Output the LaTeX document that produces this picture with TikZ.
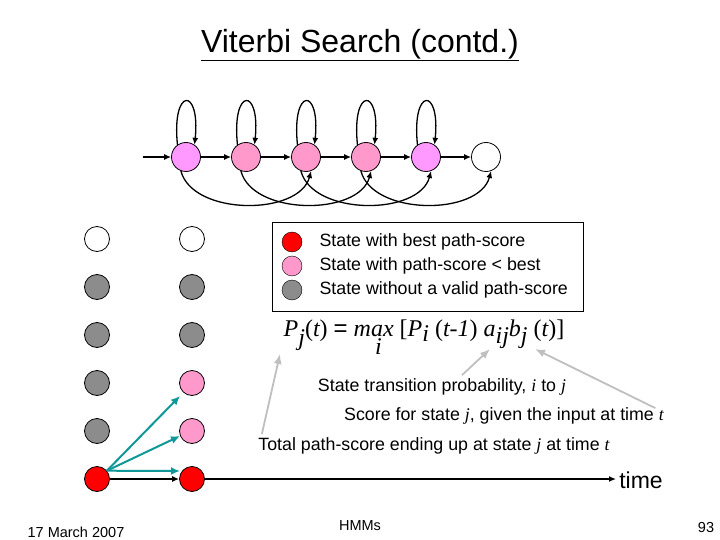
\documentclass[tikz,border=0pt]{standalone}
\usepackage{fontspec}
\setmainfont{Liberation Sans}
\newfontfamily\serif{Liberation Serif}
\newfontfamily\sans{Liberation Sans}
\usetikzlibrary{arrows.meta}
\definecolor{violet}{HTML}{FF99FF}
\definecolor{rose}{HTML}{FF99CC}
\definecolor{tealarrow}{HTML}{109898}
\newcommand{\sv}[1]{{\serif\itshape #1}}
\begin{document}
\begin{tikzpicture}
            [x=1pt, y=-1pt, font=\fontsize{17.8}{21}\selectfont,
             st/.style={circle, draw, thick, minimum size=25pt, inner sep=0pt},
             hs/.style={circle, draw, thick, minimum size=29pt, inner sep=0pt},
             lg/.style={circle, draw, minimum size=20pt, inner sep=0pt},
             ar/.style={-{Latex[length=7pt,width=6pt]}, line width=1.3pt},
             note/.style={-{Latex[length=10pt,width=8pt]}, line width=1.8pt, black!25}]
            \useasboundingbox (0,0) rectangle (720,540);

            % Title
            \node (title) at (360,45) {\fontsize{32}{36}\selectfont\underline{Viterbi Search (contd.)}};

            % HMM model on top
            \node[hs, fill=violet] (h1) at (186,157) {};
            \node[hs, fill=rose]   (h2) at (246,157) {};
            \node[hs, fill=rose]   (h3) at (306,157) {};
            \node[hs, fill=rose]   (h4) at (366,157) {};
            \node[hs, fill=violet] (h5) at (426,157) {};
            \node[hs, fill=white]  (h6) at (486,157) {};
            \coordinate (in) at (143,157);
            \draw[ar] (in) -- (h1);
            \foreach \a/\b in {h1/h2, h2/h3, h3/h4, h4/h5, h5/h6}
                \draw[ar] (\a) -- (\b);
            \foreach \a in {h1, h2, h3, h4, h5}
                \draw[ar] (\a.125) .. controls ++(-6,-58) and ++(6,-58) .. (\a.55);
            \foreach \a/\b in {h1/h3, h2/h4, h3/h5, h4/h6}
                \draw[ar] (\a.250) .. controls ++(12,45) and ++(-12,45) .. (\b.290);

            % Legend
            \node[draw, minimum width=311pt, minimum height=89pt] (legend) at (427.5,266.5) {};
            \node[lg, fill=red]     (l1) at (292,242) {};
            \node[lg, fill=rose]    (l2) at (292,266) {};
            \node[lg, fill=black!45](l3) at (292,290) {};
            \node[anchor=west] (t1) at (316,242) {State with best path-score};
            \node[anchor=west] (t2) at (316,266) {State with path-score < best};
            \node[anchor=west] (t3) at (316,290) {State without a valid path-score};

            % Trellis columns
            \node[st, fill=white]    (a1) at (97,239) {};
            \node[st, fill=black!45] (a2) at (97,287) {};
            \node[st, fill=black!45] (a3) at (97,335) {};
            \node[st, fill=black!45] (a4) at (97,383) {};
            \node[st, fill=black!45] (a5) at (97,431) {};
            \node[st, fill=red]      (a6) at (97,479) {};
            \node[st, fill=white]    (b1) at (192,239) {};
            \node[st, fill=black!45] (b2) at (192,287) {};
            \node[st, fill=black!45] (b3) at (192,335) {};
            \node[st, fill=rose]     (b4) at (192,383) {};
            \node[st, fill=rose]     (b5) at (192,431) {};
            \node[st, fill=red]      (b6) at (192,479) {};
            \coordinate (tend) at (616,479);
            \draw[ar] (a6) -- (b6);
            \draw[ar] (b6) -- (tend);
            \node (time) at (641,480) {\fontsize{23}{27}\selectfont time};
            \coordinate (e4) at (180,396);
            \coordinate (e5) at (180,436);
            \coordinate (e6) at (180,471);
            \foreach \e in {e4, e5, e6}
                \draw[-{Latex[length=9pt,width=8pt]}, line width=2pt, tealarrow] (a6.40) -- (\e);

            % Formula
            \node (form) at (424,337) {\serif\fontsize{24}{28}\selectfont
                \sv{P}\raisebox{-9pt}{\sv{j}}(\sv{t}) {\sans=}
                \sv{m}\rlap{\raisebox{-18pt}{\,\sv{i}}}\sv{ax} [\sv{P}\raisebox{-5pt}{\sv{i}} (\sv{t-1}) \sv{a}\raisebox{-7pt}{\sv{ij}}\sv{b}\raisebox{-7pt}{\sv{j}} (\sv{t})]};
            \coordinate (aij) at (490,349);
            \coordinate (bj) at (535,349);
            \coordinate (pj) at (280,354);

            % Notes
            \node (n1) at (442,387) {State transition probability, \sv{i} to \sv{j}};
            \node (n2) at (504,416) {Score for state \sv{j}, given the input at time \sv{t}};
            \node (n3) at (434,446) {Total path-score ending up at state \sv{j} at time \sv{t}};
            \draw[note] ([xshift=20pt]n1.north) -- (aij);
            \draw[note] ([xshift=-12pt,yshift=-4pt]n2.north east) -- (bj);
            \draw[note] ([xshift=7pt]n3.north west) -- (pj);

            % Footer
            \node (date) at (76,532) {\fontsize{14.5}{17}\selectfont 17 March 2007};
            \node (hmm) at (360,526) {\fontsize{14.5}{17}\selectfont HMMs};
            \node (page) at (706,528) {\fontsize{14.5}{17}\selectfont 93};
        \end{tikzpicture}
\end{document}
